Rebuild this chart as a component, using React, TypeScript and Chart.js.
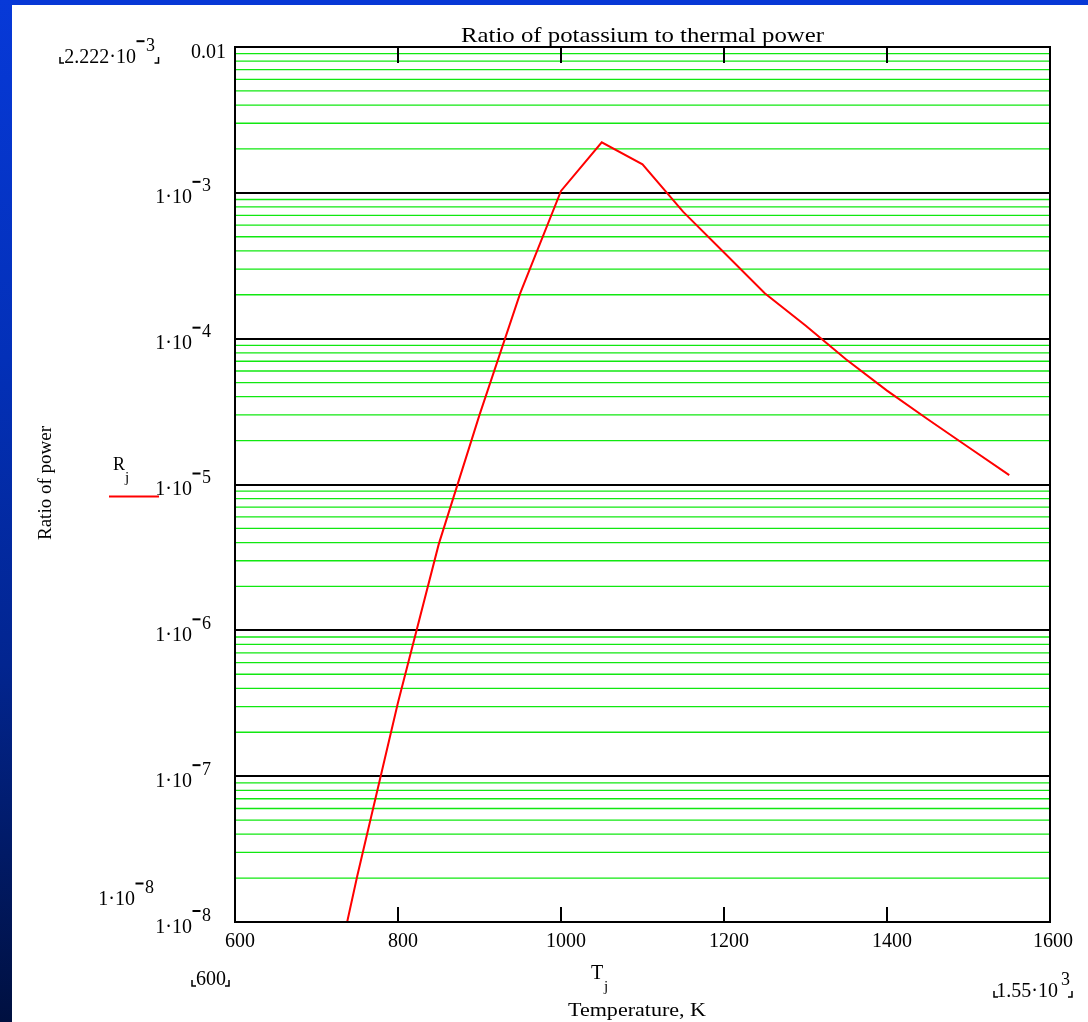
import React, { useEffect, useRef } from 'react';
import { Chart, registerables } from 'chart.js';

Chart.register(...registerables);

// ---- data ----
const temperatures = [700, 750, 800, 850, 900, 950, 1000, 1050, 1100, 1150, 1200, 1250, 1300, 1350, 1400, 1450, 1500, 1550];
const ratios = [1.1e-9, 2.07e-8, 3.2e-7, 3.9e-6, 3.0e-5, 2.05e-4, 1.03e-3, 2.222e-3, 1.57e-3, 7.4e-4, 3.9e-4, 2.05e-4, 1.23e-4, 7.2e-5, 4.4e-5, 2.8e-5, 1.8e-5, 1.16e-5];

const xTickValues = [600, 800, 1000, 1200, 1400, 1600];
const xTickLabels = ['600', '800', '1000', '1200', '1400', '1600'];
const yDecadeExponents = [-3, -4, -5, -6, -7, -8];
const yMinorMantissas = [2, 3, 4, 5, 6, 7, 8, 9];
const yTopLabel = '0.01';
const chartTitle = 'Ratio of potassium to thermal power';
const yAxisTitle = 'Ratio of power';
const xAxisTitle = 'Temperature, K';
const xMinLimitLabel = '600';
const xMaxLimitBase = '1.55·10';
const xMaxLimitExp = '3';
const yMaxLimitBase = '2.222·10';
const yMaxLimitExp = '3';
const yMinLimitBase = '1·10';
const yMinLimitExp = '8';

const SERIF = '"Liberation Serif", "Times New Roman", Times, serif';
const GREEN = '#10e810';

function drawSci(ctx: CanvasRenderingContext2D, base: string, exp: string, rightX: number, baseline: number, negative: boolean) {
  ctx.font = `20px ${SERIF}`;
  ctx.textAlign = 'right';
  ctx.textBaseline = 'alphabetic';
  ctx.fillText(base, rightX, baseline);
  let dx = 3;
  if (negative) {
    ctx.fillRect(rightX + 0.5, baseline - 22.5, 8, 2);
    dx = 10;
  }
  ctx.font = `18px ${SERIF}`;
  ctx.textAlign = 'left';
  ctx.fillText(exp, rightX + dx, baseline - 12);
}

function fillFit(ctx: CanvasRenderingContext2D, text: string, cx: number, baseline: number, width: number) {
  const w = ctx.measureText(text).width;
  ctx.save();
  ctx.translate(cx, baseline);
  ctx.scale(width / w, 1);
  ctx.textAlign = 'center';
  ctx.fillText(text, 0, 0);
  ctx.restore();
}

function bracketL(ctx: CanvasRenderingContext2D, x: number, yb: number) {
  ctx.beginPath();
  ctx.moveTo(x, yb - 6);
  ctx.lineTo(x, yb);
  ctx.lineTo(x + 4, yb);
  ctx.stroke();
}
function bracketR(ctx: CanvasRenderingContext2D, x: number, yb: number) {
  ctx.beginPath();
  ctx.moveTo(x, yb - 6);
  ctx.lineTo(x, yb);
  ctx.lineTo(x - 4, yb);
  ctx.stroke();
}

const gridPlugin = {
  id: 'logGrid',
  beforeDatasetsDraw(chart: any) {
    const ctx: CanvasRenderingContext2D = chart.ctx;
    const ca = chart.chartArea;
    const ys = chart.scales.y;
    ctx.save();
    for (let e = -8; e < -2; e++) {
      yMinorMantissas.forEach((m) => {
        const py = ys.getPixelForValue(m * Math.pow(10, e));
        ctx.strokeStyle = GREEN;
        ctx.lineWidth = 1.3;
        ctx.beginPath();
        ctx.moveTo(ca.left, py);
        ctx.lineTo(ca.right, py);
        ctx.stroke();
      });
    }
    yDecadeExponents.forEach((e) => {
      const py = Math.round(ys.getPixelForValue(Math.pow(10, e)));
      ctx.strokeStyle = '#000';
      ctx.lineWidth = 2;
      ctx.beginPath();
      ctx.moveTo(ca.left, py);
      ctx.lineTo(ca.right, py);
      ctx.stroke();
    });
    ctx.restore();
  },
};

const decorPlugin = {
  id: 'mathcadDecor',
  afterDraw(chart: any) {
    const ctx: CanvasRenderingContext2D = chart.ctx;
    const ca = chart.chartArea;
    const xs = chart.scales.x;
    const ys = chart.scales.y;
    ctx.save();
    ctx.fillStyle = '#000';
    ctx.strokeStyle = '#000';

    // frame
    ctx.lineWidth = 2;
    ctx.strokeRect(ca.left, ca.top, ca.right - ca.left, ca.bottom - ca.top);

    // inward x ticks (top and bottom)
    xTickValues.forEach((v) => {
      const px = Math.round(xs.getPixelForValue(v));
      ctx.beginPath();
      ctx.moveTo(px, ca.bottom);
      ctx.lineTo(px, ca.bottom - 15);
      ctx.moveTo(px, ca.top);
      ctx.lineTo(px, ca.top + 16);
      ctx.stroke();
    });

    // x tick labels
    ctx.font = `20px ${SERIF}`;
    ctx.textAlign = 'center';
    ctx.textBaseline = 'alphabetic';
    xTickValues.forEach((v, i) => {
      const px = xs.getPixelForValue(v);
      ctx.fillText(xTickLabels[i], px + (i === xTickValues.length - 1 ? 3 : 5), ca.bottom + 24.7);
    });

    // y tick labels
    yDecadeExponents.forEach((e) => {
      const g = ys.getPixelForValue(Math.pow(10, e));
      drawSci(ctx, '1·10', String(-e), 192, g + 10.5, true);
    });
    ctx.font = `20px ${SERIF}`;
    ctx.textAlign = 'right';
    ctx.fillText(yTopLabel, 226, ys.getPixelForValue(1e-2) + 11);

    // axis limit labels (Mathcad style)
    drawSci(ctx, yMaxLimitBase, yMaxLimitExp, 136, 62.7, true);
    drawSci(ctx, yMinLimitBase, yMinLimitExp, 135, 905, true);
    ctx.font = `20px ${SERIF}`;
    ctx.textAlign = 'center';
    ctx.fillText(xMinLimitLabel, 211, 985);
    drawSci(ctx, xMaxLimitBase, xMaxLimitExp, 1058, 996.7, false);
    ctx.lineWidth = 1.5;
    bracketL(ctx, 60, 63);
    bracketR(ctx, 158.5, 63);
    bracketL(ctx, 192, 986);
    bracketR(ctx, 229, 986);
    bracketL(ctx, 994, 997);
    bracketR(ctx, 1072, 997);

    // title
    ctx.font = `21px ${SERIF}`;
    fillFit(ctx, chartTitle, (ca.left + ca.right) / 2, 42, 363);

    // x axis title
    ctx.font = `20px ${SERIF}`;
    ctx.textAlign = 'left';
    ctx.fillText('T', 591, 979);
    ctx.font = `15px ${SERIF}`;
    ctx.fillText('j', 604, 991);
    ctx.font = `18px ${SERIF}`;
    fillFit(ctx, xAxisTitle, 637, 1016, 138);

    // y axis title
    ctx.save();
    ctx.translate(46, 483);
    ctx.rotate(-Math.PI / 2);
    ctx.font = `19px ${SERIF}`;
    ctx.textAlign = 'center';
    ctx.textBaseline = 'middle';
    ctx.fillText(yAxisTitle, 0, 0);
    ctx.restore();

    // legend
    ctx.font = `18px ${SERIF}`;
    ctx.textAlign = 'left';
    ctx.fillText('R', 113, 470);
    ctx.font = `15px ${SERIF}`;
    ctx.fillText('j', 125, 482);
    ctx.strokeStyle = '#ff0000';
    ctx.lineWidth = 2;
    ctx.beginPath();
    ctx.moveTo(109, 496.5);
    ctx.lineTo(159, 496.5);
    ctx.stroke();

    ctx.restore();
  },
};

export default function App() {
  const canvasRef = useRef<HTMLCanvasElement | null>(null);

  useEffect(() => {
    document.body.style.margin = '0';
    const canvas = canvasRef.current;
    if (!canvas) return;
    const chart = new Chart(canvas, {
      type: 'line',
      data: {
        datasets: [
          {
            label: 'R_j',
            data: temperatures.map((t, i) => ({ x: t, y: ratios[i] })),
            borderColor: '#ff0000',
            borderWidth: 2,
            pointRadius: 0,
            tension: 0,
            fill: false,
          },
        ],
      },
      options: {
        responsive: false,
        animation: false,
        devicePixelRatio: 1,
        layout: { padding: { left: 235, right: 38, top: 47, bottom: 100 } },
        plugins: { legend: { display: false }, tooltip: { enabled: false }, title: { display: false } },
        scales: {
          x: {
            type: 'linear',
            min: 600,
            max: 1600,
            grid: { display: false, drawTicks: false },
            ticks: { display: false },
            border: { display: false },
          },
          y: {
            type: 'logarithmic',
            min: 1e-8,
            max: 1e-2,
            ticks: { display: false },
            border: { display: false },
            grid: { display: false, drawTicks: false },
          },
        },
      },
      plugins: [gridPlugin, decorPlugin],
    } as any);
    return () => chart.destroy();
  }, []);

  return (
    <div style={{ position: 'fixed', left: 0, top: 0, width: 1088, height: 1022, background: '#ffffff', overflow: 'hidden' }}>
      <div style={{ position: 'absolute', left: 0, top: 0, width: 1088, height: 5, background: '#0738d6' }} />
      <div
        style={{
          position: 'absolute',
          left: 0,
          top: 0,
          width: 12,
          height: 1022,
          background: 'linear-gradient(to bottom, #0739d8 0%, #0330b8 35%, #022590 65%, #001040 100%)',
        }}
      />
      <canvas ref={canvasRef} width={1088} height={1022} style={{ position: 'absolute', left: 0, top: 0 }} />
    </div>
  );
}
